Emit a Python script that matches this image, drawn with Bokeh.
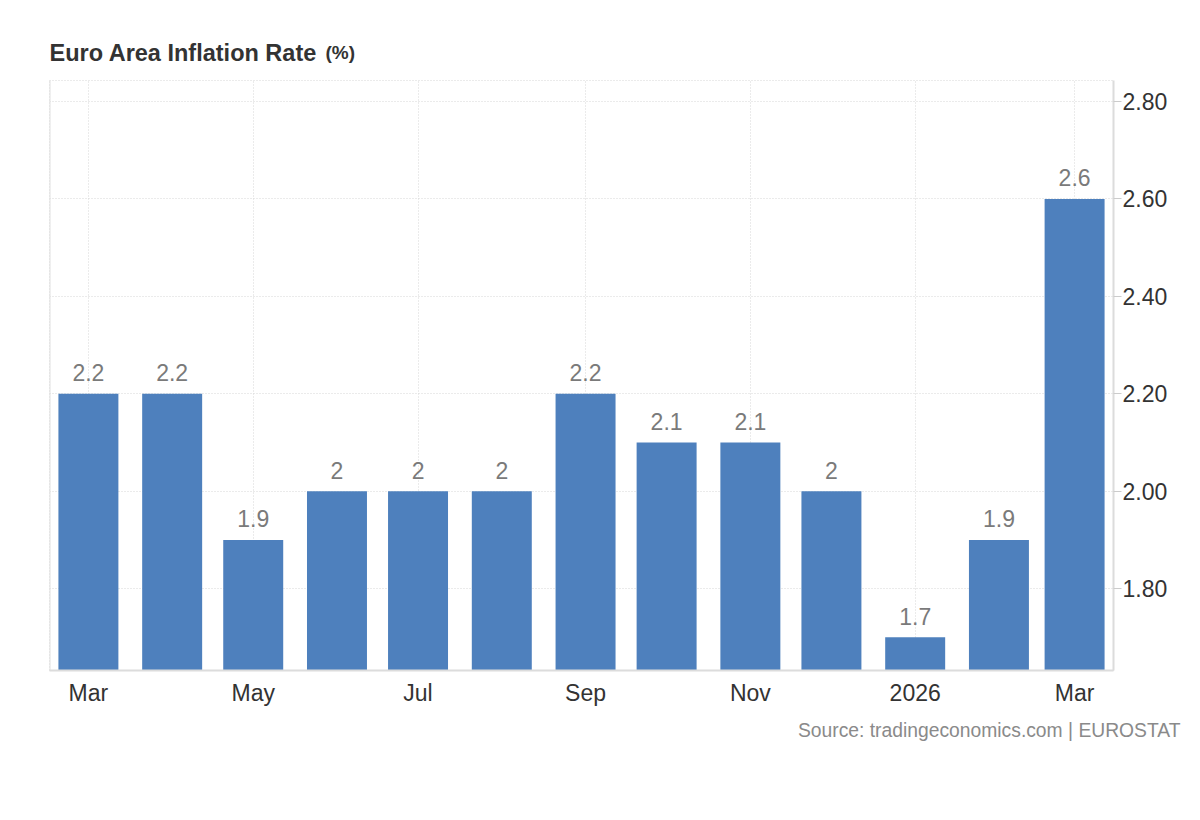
import pandas as pd
from bokeh.plotting import figure
from bokeh.layouts import column
from bokeh.models import ColumnDataSource, FixedTicker, Span, Range1d, NumeralTickFormatter, Title
from bokeh.core.properties import value
from bokeh.embed import file_html
from bokeh.resources import INLINE

# ---- data ----
months = ["2025-03", "2025-04", "2025-05", "2025-06", "2025-07", "2025-08", "2025-09",
          "2025-10", "2025-11", "2025-12", "2026-01", "2026-02", "2026-03"]
values = [2.2, 2.2, 1.9, 2.0, 2.0, 2.0, 2.2, 2.1, 2.1, 2.0, 1.7, 1.9, 2.6]
tick_months = ["2025-03", "2025-05", "2025-07", "2025-09", "2025-11", "2026-01", "2026-03"]
tick_labels = ["Mar", "May", "Jul", "Sep", "Nov", "2026", "Mar"]
y_ticks = [1.8, 2.0, 2.2, 2.4, 2.6, 2.8]

title_text = "Euro Area Inflation Rate"
unit_text = "(%)"
source_text = "Source: tradingeconomics.com | EUROSTAT"

# x positions as days since the first month
origin = pd.Timestamp(months[0] + "-01")
def days(m):
    return int((pd.Timestamp(m + "-01") - origin).days)

xs = [days(m) for m in months]
tx = [days(m) for m in tick_months]

src = ColumnDataSource(dict(x=xs, top=values, lab=[f"{v:g}" for v in values]))

FONT = "Liberation Sans"
BAR = "#4e80bd"
W = 1192
FL, FW = 49, 1064  # frame left / width in page pixels

# ---- header (title); its frame is aligned with the chart frame ----
h = figure(width=W, height=80, x_range=Range1d(FL, FL + FW), y_range=Range1d(80, 0),
           x_axis_location=None, y_axis_location=None, title=None,
           output_backend="svg", toolbar_location=None,
           min_border=0, outline_line_color=None)
h.grid.visible = False
hsrc = ColumnDataSource(dict(x=[49, 325], y=[52, 52], t=[title_text, unit_text],
                             fs=["23.5px", "19px"]))
h.text(x="x", y="y", text="t", text_font_size="fs", source=hsrc,
       text_font=value(FONT), text_font_style="bold", text_color="#333333",
       text_baseline="alphabetic", text_align="left")

# ---- main chart ----
x0 = -14.4
x1 = xs[-1] + 14.4
y0, y1 = 1.632, 2.843
p = figure(frame_width=FW, frame_height=590,
           x_range=Range1d(x0, x1), y_range=Range1d(y0, y1),
           y_axis_location="right", output_backend="svg", toolbar_location=None,
           min_border_left=FL, min_border_top=0, min_border_right=W - FL - FW,
           min_border_bottom=100)

p.vbar(x="x", top="top", bottom=1.0, width=22.2, source=src, color=BAR, line_color=None)
p.text(x="x", y="top", text="lab", source=src, text_align="center", text_baseline="middle",
       y_offset=-21, text_color="#7a7a7a", text_font_size="23px", text_font=value(FONT))

# axes
p.xaxis.ticker = FixedTicker(ticks=tx)
p.xaxis.major_label_overrides = {t: l for t, l in zip(tx, tick_labels)}
p.xaxis.major_tick_line_color = None
p.xaxis.minor_tick_line_color = None
p.xaxis.major_tick_out = 0
p.xaxis.major_label_standoff = 9
p.xaxis.axis_line_color = "#dcdcdc"
p.xaxis.axis_line_width = 2
p.xaxis.major_label_text_font = FONT
p.xaxis.major_label_text_font_size = "23px"
p.xaxis.major_label_text_color = "#333333"

p.yaxis.ticker = FixedTicker(ticks=y_ticks)
p.yaxis.formatter = NumeralTickFormatter(format="0.00")
p.yaxis.axis_line_color = "#dcdcdc"
p.yaxis.axis_line_width = 2
p.yaxis.major_tick_line_color = "#cccccc"
p.yaxis.major_tick_out = 8
p.yaxis.major_tick_in = 0
p.yaxis.minor_tick_line_color = None
p.yaxis.major_label_standoff = 1
p.yaxis.major_label_text_font = FONT
p.yaxis.major_label_text_font_size = "23px"
p.yaxis.major_label_text_color = "#333333"

# grids
for g in (p.xgrid, p.ygrid):
    g.grid_line_color = "#d6d6d6"
    g.grid_line_dash = "1 2"
    g.grid_line_width = 1

p.outline_line_color = "#d6d6d6"
p.outline_line_dash = "1 2"
p.add_layout(Span(location=x0, dimension="height", line_color="#e0e0e0", line_width=2))

# source
p.add_layout(Title(text=source_text, align="right", offset=-67, text_font=FONT,
                   text_font_size="19.3px", text_font_style="normal", text_color="#8a8a8a",
                   standoff=19), "below")

p.background_fill_color = "white"
p.border_fill_color = "white"

layout = column(h, p, spacing=0)
open("out.html", "w").write(file_html(layout, INLINE))
